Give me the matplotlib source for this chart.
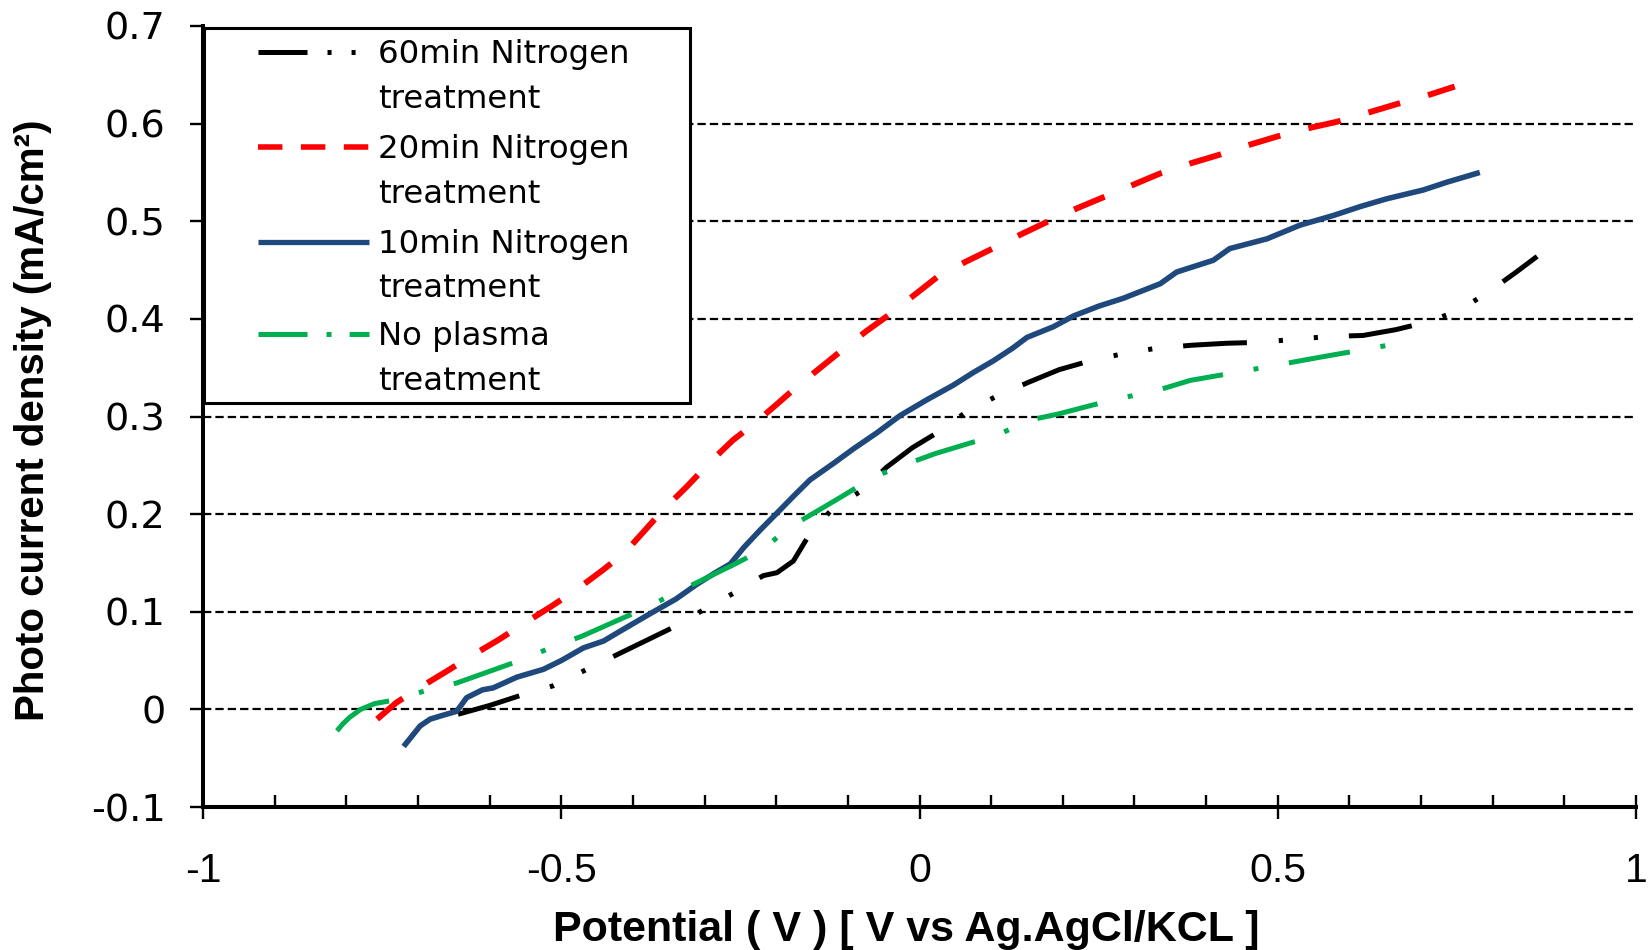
import matplotlib
matplotlib.use("Agg")
import matplotlib.pyplot as plt
from matplotlib.lines import Line2D
from matplotlib.patches import Rectangle

plt.rcParams['axes.unicode_minus'] = False
plt.rcParams['lines.scale_dashes'] = False

# ---------------- data ----------------
v_60min = [-0.644, -0.600, -0.558, -0.512, -0.467, -0.425, -0.383, -0.341, -0.299, -0.257,
           -0.218, -0.199, -0.176, -0.153, -0.122, -0.081, -0.046, -0.010, 0.026, 0.064,
           0.108, 0.152, 0.195, 0.238, 0.282, 0.331, 0.380, 0.428, 0.475, 0.522,
           0.572, 0.619, 0.665, 0.710, 0.754, 0.795, 0.833, 0.862]
j_60min = [-0.005, 0.004, 0.014, 0.024, 0.040, 0.055, 0.070, 0.085, 0.103, 0.120,
           0.137, 0.140, 0.152, 0.180, 0.205, 0.224, 0.248, 0.268, 0.284, 0.304,
           0.321, 0.335, 0.348, 0.357, 0.364, 0.370, 0.373, 0.375, 0.376, 0.379,
           0.382, 0.383, 0.389, 0.397, 0.409, 0.428, 0.448, 0.464]

v_20min = [-0.757, -0.730, -0.696, -0.660, -0.625, -0.588, -0.552, -0.515, -0.480, -0.445,
           -0.412, -0.385, -0.357, -0.325, -0.290, -0.260, -0.230, -0.200, -0.172, -0.140,
           -0.108, -0.075, -0.041, -0.008, 0.025, 0.063, 0.102, 0.140, 0.180, 0.219,
           0.258, 0.297, 0.336, 0.377, 0.418, 0.459, 0.500, 0.541, 0.583, 0.625,
           0.666, 0.705, 0.747]
j_20min = [-0.010, 0.007, 0.023, 0.039, 0.055, 0.071, 0.088, 0.105, 0.122, 0.141,
           0.160, 0.182, 0.205, 0.228, 0.255, 0.276, 0.293, 0.312, 0.330, 0.349,
           0.368, 0.387, 0.405, 0.424, 0.443, 0.458, 0.472, 0.486, 0.500, 0.513,
           0.525, 0.537, 0.549, 0.559, 0.568, 0.578, 0.587, 0.595, 0.602, 0.611,
           0.620, 0.628, 0.638]

v_10min = [-0.720, -0.697, -0.683, -0.665, -0.646, -0.632, -0.610, -0.595, -0.562, -0.525,
           -0.500, -0.469, -0.441, -0.418, -0.376, -0.340, -0.311, -0.285, -0.264, -0.245,
           -0.222, -0.199, -0.175, -0.153, -0.120, -0.092, -0.060, -0.027, 0.010,
           0.047, 0.075, 0.103, 0.130, 0.150, 0.187, 0.215, 0.250, 0.284, 0.336,
           0.359, 0.410, 0.433, 0.485, 0.531, 0.578, 0.615, 0.652, 0.703, 0.736, 0.782]
j_10min = [-0.038, -0.017, -0.010, -0.006, -0.002, 0.012, 0.020, 0.022, 0.033, 0.041,
           0.050, 0.063, 0.070, 0.080, 0.098, 0.113, 0.128, 0.140, 0.149, 0.166,
           0.184, 0.201, 0.219, 0.235, 0.252, 0.267, 0.283, 0.301, 0.317,
           0.332, 0.345, 0.357, 0.370, 0.381, 0.392, 0.403, 0.413, 0.421, 0.436,
           0.448, 0.460, 0.472, 0.482, 0.496, 0.506, 0.515, 0.523, 0.532, 0.540, 0.550]

v_noplasma = [-0.813, -0.805, -0.795, -0.780, -0.760, -0.737, -0.690, -0.646, -0.600, -0.558,
              -0.515, -0.471, -0.428, -0.385, -0.344, -0.302, -0.260, -0.218, -0.183, -0.143,
              -0.104, -0.064, -0.023, 0.022, 0.067, 0.112, 0.152, 0.196, 0.243, 0.289,
              0.333, 0.378, 0.425, 0.471, 0.516, 0.561, 0.608, 0.654]
j_noplasma = [-0.022, -0.015, -0.008, 0.000, 0.006, 0.009, 0.019, 0.027, 0.039, 0.050,
              0.063, 0.075, 0.089, 0.103, 0.118, 0.133, 0.148, 0.164, 0.186, 0.203,
              0.220, 0.238, 0.250, 0.262, 0.272, 0.282, 0.296, 0.303, 0.312, 0.320,
              0.327, 0.337, 0.343, 0.349, 0.355, 0.361, 0.367, 0.373]

series_labels = [("60min Nitrogen", "treatment"),
                 ("20min Nitrogen", "treatment"),
                 ("10min Nitrogen", "treatment"),
                 ("No plasma", "treatment")]

x_ticks = [-1, -0.5, 0, 0.5, 1]
x_tick_labels = ["-1", "-0.5", "0", "0.5", "1"]
x_minor_ticks = [-0.9, -0.8, -0.7, -0.6, -0.4, -0.3, -0.2, -0.1,
                 0.1, 0.2, 0.3, 0.4, 0.6, 0.7, 0.8, 0.9]
y_ticks = [-0.1, 0, 0.1, 0.2, 0.3, 0.4, 0.5, 0.6, 0.7]
y_tick_labels = ["-0.1", "0", "0.1", "0.2", "0.3", "0.4", "0.5", "0.6", "0.7"]
grid_levels = [0, 0.1, 0.2, 0.3, 0.4, 0.5, 0.6]

x_label = "Potential ( V ) [ V vs Ag.AgCl/KCL ]"
y_label = "Photo current density (mA/cm\u00b2)"

# ---------------- layout ----------------
W, H = 1648, 950
PX = 72.0 / 100.0  # points per pixel at dpi 100
AX_L, AX_R, AX_T, AX_B = 203, 1636, 26, 807

fig = plt.figure(figsize=(W / 100, H / 100), dpi=100)
ax = fig.add_axes([AX_L / W, 1 - AX_B / H, (AX_R - AX_L) / W, (AX_B - AX_T) / H])
ax.set_xlim(-1, 1)
ax.set_ylim(-0.1, 0.7)


def fx(px):
    return (px - AX_L) / (AX_R - AX_L)


def fy(py):
    return (AX_B - py) / (AX_B - AX_T)


for s in ("top", "right"):
    ax.spines[s].set_visible(False)
for s in ("left", "bottom"):
    ax.spines[s].set_linewidth(2.9)
    ax.spines[s].set_color("black")

for lev in grid_levels:
    ax.axhline(lev, color="black", lw=1.6, linestyle=(0, (6.0, 2.9)), zorder=1)

BLACK_DASH = (0, (46.0, 23.0, 3.0, 22.3, 3.0, 22.3))
RED_DASH = (0, (23.8, 20.9))
GREEN_DASH = (0, (44.6, 22.3, 3.6, 22.3))

ax.plot(v_60min, j_60min, color="black", lw=3.6, linestyle=BLACK_DASH, zorder=3)
ax.plot(v_20min, j_20min, color="#FF0000", lw=4.3, linestyle=RED_DASH, zorder=3)
ax.plot(v_10min, j_10min, color="#1F497D", lw=4.0, linestyle="-", zorder=3,
        solid_capstyle="butt", solid_joinstyle="round")
ax.plot(v_noplasma, j_noplasma, color="#00B050", lw=3.6, linestyle=GREEN_DASH, zorder=3)

# ticks
ax.set_xticks(x_ticks, x_tick_labels)
ax.set_xticks(x_minor_ticks, minor=True)
ax.set_yticks(y_ticks, y_tick_labels)
ax.tick_params(axis="x", which="major", direction="inout", length=24 * PX, width=1.7,
               pad=23.5, labelsize=29.5, colors="black")
ax.tick_params(axis="x", which="minor", direction="in", length=12 * PX, width=1.7)
ax.tick_params(axis="y", which="major", direction="out", length=13 * PX, width=1.7,
               pad=17.5, labelsize=27.5, colors="black")
for lbl in ax.get_xticklabels():
    lbl.set_fontfamily("Liberation Sans")
for lbl in ax.get_yticklabels():
    lbl.set_fontfamily("DejaVu Sans")

ax.set_xlabel(x_label, fontsize=31, fontweight="bold", family="Liberation Sans")
ax.xaxis.label.set_verticalalignment("baseline")
ax.xaxis.set_label_coords(fx(906), fy(941))
ax.set_ylabel(y_label, fontsize=29, fontweight="bold", family="Liberation Sans")
ax.yaxis.set_label_coords(fx(52), fy(420))

# ---------------- legend (drawn as box + handles + text) ----------------
box = Rectangle((fx(204), fy(403)), fx(690) - fx(204), fy(27.5) - fy(403),
                transform=ax.transAxes, facecolor="white", edgecolor="black",
                lw=2.2, zorder=5, clip_on=False)
ax.add_patch(box)

legend_styles = [
    dict(color="black", lw=3.6, linestyle=(0, (35.3, 14.4, 2.9, 14.4, 2.9, 30.0))),
    dict(color="#FF0000", lw=4.0, linestyle=(0, (17.6, 13.3))),
    dict(color="#1F497D", lw=3.8, linestyle="-", solid_capstyle="butt"),
    dict(color="#00B050", lw=3.6, linestyle=(0, (35.3, 13.7, 3.6, 13.0))),
]
first_baselines = [63.3, 158.3, 252.7, 345.0]
line_gap = 44.5
for (l1, l2), st, bl in zip(series_labels, legend_styles, first_baselines):
    hy = bl - 11
    ax.add_line(Line2D([fx(258), fx(369)], [fy(hy), fy(hy)], transform=ax.transAxes,
                       zorder=6, clip_on=False, **st))
    ax.text(fx(378), fy(bl), l1, transform=ax.transAxes, ha="left", va="baseline",
            fontsize=23.3, family="DejaVu Sans", zorder=7)
    ax.text(fx(378), fy(bl + line_gap), l2, transform=ax.transAxes, ha="left",
            va="baseline", fontsize=23.3, family="DejaVu Sans", zorder=7)

fig.savefig("out.png", dpi=100, facecolor="white")
